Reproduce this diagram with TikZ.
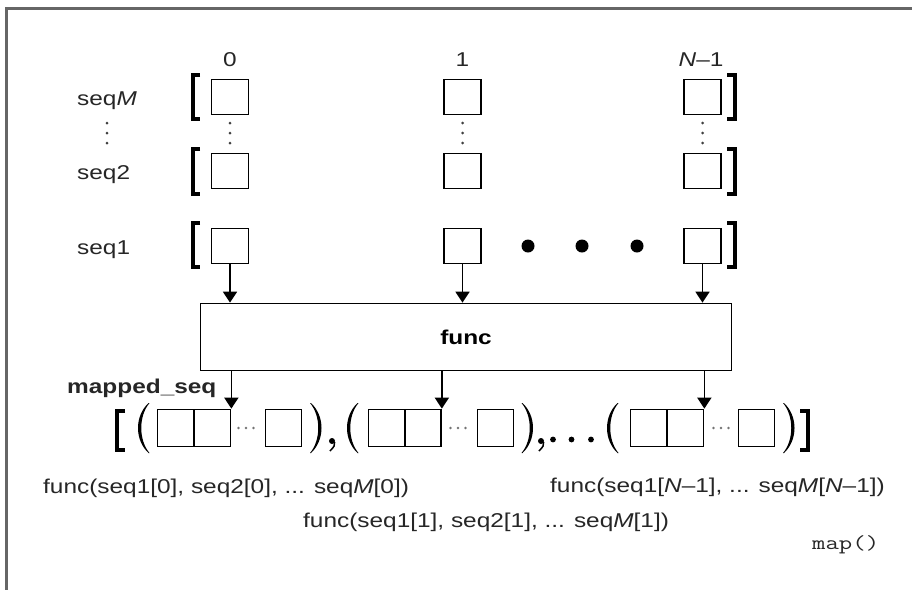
\documentclass[tikz,border=0pt]{standalone}
\usepackage{fontspec}
\setmainfont{Liberation Sans}[FakeStretch=1.22]
\setmonofont{Latin Modern Mono}[FakeStretch=1.3]
\usetikzlibrary{arrows.meta}
\newcommand\mylbl{\fontsize{20}{24}\selectfont}
\begin{document}
\begin{tikzpicture}[x=1pt,y=-1pt,
  sq/.style={draw,line width=1.7pt,minimum width=37pt,minimum height=35pt,inner sep=0pt},
  tb/.style={draw,line width=1.7pt,minimum width=36pt,minimum height=37pt,inner sep=0pt},
  fbox/.style={draw,line width=1.7pt,minimum width=531pt,minimum height=67pt,inner sep=0pt,font=\mylbl\bfseries},
  arr/.style={-{Triangle[length=11pt,width=14pt]},line width=1.7pt},
  brk/.style={line width=3.8pt,line join=miter},
  bigbrk/.style={line width=4pt,line join=miter},
  frame/.style={line width=2.5pt,draw=black!60},
  txt/.style={inner sep=0pt,font=\mylbl,text=black!85},
  vdot/.style={fill=black!75},
  sdot/.style={fill=black!55},
  lparen/.pic={\fill (5,-25) .. controls (-9,-12) and (-9,12) .. (5,25) -- (6,25) .. controls (-5,12) and (-5,-12) .. (6,-25) -- cycle;},
  rparen/.pic={\fill (-5,-25) .. controls (9,-12) and (9,12) .. (-5,25) -- (-6,25) .. controls (5,12) and (5,-12) .. (-6,-25) -- cycle;}
]
\useasboundingbox (0,0) rectangle (912,590);
% frame
\draw[frame] (912,8.5) -- (6.5,8.5) -- (6.5,590);

% column indices
\node[txt,anchor=base] (i0) at (230,66) {0};
\node[txt,anchor=base] (i1) at (462.5,66) {1};
\node[txt,anchor=base] (i2) at (701,66) {\textit{N}--1};

% row labels
\node[txt,anchor=base west] (lm) at (77,105) {seq\textit{M}};
\node[txt,anchor=base west] (l2) at (77,179) {seq2};
\node[txt,anchor=base west] (l1) at (77,254) {seq1};

% squares
\node[sq] (m0) at (230,97) {};
\node[sq] (m1) at (462.5,97) {};
\node[sq] (m2) at (702.5,97) {};
\node[sq] (b0) at (230,171) {};
\node[sq] (b1) at (462.5,171) {};
\node[sq] (b2) at (702.5,171) {};
\node[sq] (a0) at (230,246) {};
\node[sq] (a1) at (462.5,246) {};
\node[sq] (a2) at (702.5,246) {};

% vertical dots
\foreach \x in {107,230,462.5,702.5}{
  \foreach \y in {123,133,143}{ \fill[vdot] (\x,\y) circle (1.5); }
}

% brackets of rows
\foreach \ya/\yb in {75/119,149/194,223/267}{
  \draw[brk] (200,\ya) -- (193,\ya) -- (193,\yb) -- (200,\yb);
  \draw[brk] (727,\ya) -- (735,\ya) -- (735,\yb) -- (727,\yb);
}

% big dots
\foreach \x in {528,582,637}{ \fill (\x,246) circle (6.5); }

% func box
\node[fbox] (func) at (466,337) {func};

\draw[arr] (a0.south) -- (a0.south |- func.north);
\draw[arr] (a1.south) -- (a1.south |- func.north);
\draw[arr] (a2.south) -- (a2.south |- func.north);

% mapped_seq label
\node[txt,anchor=base west,font=\mylbl\bfseries] (ms) at (67,393) {mapped\_seq};

% tuple boxes
\node[tb] (p1a) at (175.5,428) {};
\node[tb] (p1b) at (212.5,428) {};
\node[tb] (s1) at (283.5,428) {};
\node[tb] (p2a) at (386.5,428) {};
\node[tb] (p2b) at (423,428) {};
\node[tb] (s2) at (495.5,428) {};
\node[tb] (p3a) at (648.5,428) {};
\node[tb] (p3b) at (685.5,428) {};
\node[tb] (s3) at (756.5,428) {};

\draw[arr] (p1b.north east |- func.south) -- (p1b.north east);
\draw[arr] (p2b.north east |- func.south) -- (p2b.north east);
\draw[arr] (p3b.north east |- func.south) -- (p3b.north east);

% small ellipses
\foreach \x in {238.5,246,253.5,450.5,458,465.5,713.5,721,728.5}{ \fill[sdot] (\x,428) circle (1.3); }

% parentheses
\pic at (143.5,428) {lparen};
\pic at (316,428) {rparen};
\pic at (352.5,428) {lparen};
\pic at (527.5,428) {rparen};
\pic at (612.5,428) {lparen};
\pic at (789,428) {rparen};

% commas and dots
\fill (332,441) circle (3);
\draw[line width=1.5pt] (334.6,442) .. controls (334.6,446) .. (330,451);
\fill (541,441) circle (3);
\draw[line width=1.5pt] (543.6,442) .. controls (543.6,446) .. (539,451);
\foreach \x in {553,571.5,591}{ \fill (\x,439.5) circle (2.9); }

% outer brackets
\draw[bigbrk] (125,411) -- (117,411) -- (117,450) -- (125,450);
\draw[bigbrk] (800,411) -- (808,411) -- (808,450) -- (800,450);

% result texts
\node[txt,anchor=base west] (r0) at (43,493) {func(seq1[0], seq2[0], ... seq\textit{M}[0])};
\node[txt,anchor=base west] (rn) at (550,492) {func(seq1[\textit{N}--1], ... seq\textit{M}[\textit{N}--1])};
\node[txt,anchor=base west] (r1) at (303,527) {func(seq1[1], seq2[1], ... seq\textit{M}[1])};
\node[inner sep=0pt,anchor=base west,text=black!85,font=\ttfamily\fontsize{20}{24}\selectfont] (mp) at (812,549) {map()};
\end{tikzpicture}
\end{document}
